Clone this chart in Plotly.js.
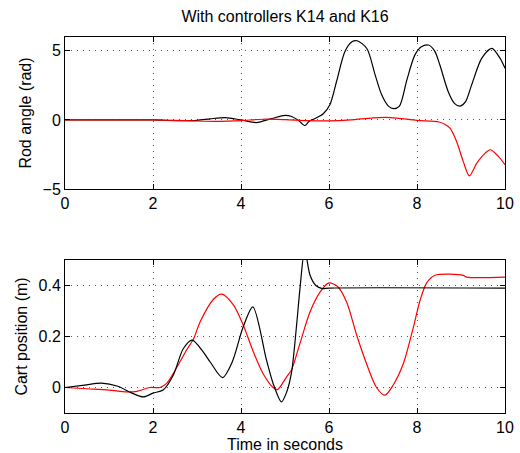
<!DOCTYPE html>
<html>
<head>
<meta charset="utf-8">
<script src="https://cdn.plot.ly/plotly-3.0.1.min.js"></script>
<style>
  html, body { margin: 0; padding: 0; background: #fff; }
  #chart { width: 520px; height: 453px; }
</style>
</head>
<body>
<div id="chart"></div>
<script>
// Rod angle (rad), controller K14 (black)
const angleK14T = [0, 1.0, 2.0, 2.5, 3.0, 3.3, 3.65, 4.0, 4.35, 4.7, 5.0, 5.15, 5.3, 5.45, 5.55, 5.65, 5.87, 6.02, 6.17, 6.36, 6.52, 6.64, 6.86, 7.05, 7.2, 7.35, 7.47, 7.6, 7.77, 7.95, 8.1, 8.26, 8.4, 8.52, 8.71, 8.85, 8.98, 9.1, 9.24, 9.47, 9.7, 9.89, 10];
const angleK14V = [0, 0, 0, -0.05, -0.03, 0.08, 0.17, 0, -0.19, 0.1, 0.33, 0.25, -0.02, -0.41, -0.1, 0.05, 0.45, 1.1, 2.76, 4.93, 5.65, 5.73, 5.17, 3.24, 1.8, 1.0, 0.82, 1.0, 2.9, 4.69, 5.3, 5.42, 5.0, 3.97, 2.04, 1.2, 1.0, 1.3, 2.52, 4.45, 5.18, 4.45, 3.73];

// Rod angle (rad), controller K16 (red)
const angleK16T = [0, 2.0, 2.5, 3.0, 3.5, 4.0, 4.5, 5.0, 5.5, 6.0, 6.5, 7.0, 7.4, 8.0, 8.5, 8.63, 8.75, 8.9, 9.05, 9.19, 9.36, 9.55, 9.67, 9.85, 10];
const angleK16V = [0, 0, -0.03, -0.08, -0.1, -0.05, 0.05, 0.02, -0.05, -0.07, 0.0, 0.15, 0.17, -0.03, -0.15, -0.31, -0.6, -1.56, -3.0, -4.05, -3.12, -2.4, -2.16, -2.64, -3.24];

// Cart position (m), controller K14 (black)
const cartK14T = [0, 0.4, 0.83, 1.2, 1.5, 1.78, 2.0, 2.23, 2.46, 2.69, 2.89, 3.14, 3.3, 3.58, 3.8, 4.05, 4.27, 4.58, 4.73, 4.92, 5.04, 5.15, 5.27, 5.34, 5.45, 5.5, 5.57, 5.7, 5.85, 6.0, 10];
const cartK14V = [0, 0.008, 0.017, 0.005, -0.02, -0.037, -0.022, -0.01, 0.048, 0.153, 0.186, 0.14, 0.10, 0.039, 0.1, 0.238, 0.316, 0.107, 0.016, -0.056, -0.017, 0.061, 0.257, 0.388, 0.55, 0.5, 0.44, 0.40, 0.388, 0.39, 0.39];

// Cart position (m), controller K16 (red)
const cartK16T = [0, 0.5, 1.0, 1.4, 1.63, 1.93, 2.16, 2.31, 2.61, 2.76, 2.92, 3.07, 3.37, 3.56, 3.83, 4.05, 4.28, 4.5, 4.73, 4.83, 5.03, 5.15, 5.34, 5.57, 5.8, 6.0, 6.2, 6.4, 6.63, 6.86, 7.08, 7.27, 7.46, 7.69, 7.92, 8.07, 8.22, 8.41, 9.05, 9.13, 10];
const cartK16V = [0, -0.005, -0.01, -0.017, -0.015, 0.0, 0.0, 0.016, 0.10, 0.146, 0.19, 0.257, 0.345, 0.366, 0.323, 0.245, 0.14, 0.055, 0.0, -0.008, 0.04, 0.07, 0.173, 0.297, 0.375, 0.41, 0.395, 0.335, 0.205, 0.09, 0.0, -0.03, 0.01, 0.094, 0.238, 0.342, 0.41, 0.44, 0.44, 0.433, 0.433];

const xTicks = [0, 2, 4, 6, 8, 10];
const angleTicks = [-5, 0, 5];
const cartTicks = [0, 0.2, 0.4];

const FONT = "'Liberation Sans', Arial, Helvetica, sans-serif";

function line(x, y, color, xa, ya) {
  return {
    x: x, y: y, xaxis: xa, yaxis: ya, type: 'scatter', mode: 'lines',
    line: { color: color, width: 1.2, shape: 'spline', smoothing: 0.8 },
    hoverinfo: 'skip', showlegend: false
  };
}

const data = [
  line(angleK14T, angleK14V, '#000000', 'x', 'y'),
  line(angleK16T, angleK16V, '#ff0000', 'x', 'y'),
  line(cartK16T, cartK16V, '#ff0000', 'x2', 'y2'),
  line(cartK14T, cartK14V, '#000000', 'x2', 'y2')
];

const axisCommon = {
  showline: true, linecolor: '#000', linewidth: 1, mirror: 'ticks',
  ticks: 'inside', ticklen: 5, tickcolor: '#000', tickwidth: 1,
  showgrid: true, gridcolor: '#555', griddash: '1px,5px', gridwidth: 1,
  zeroline: false, tickfont: { family: FONT, size: 16, color: '#000' },
  automargin: false
};

const layout = {
  width: 520, height: 453,
  margin: { l: 65, r: 15, t: 37, b: 40 },
  paper_bgcolor: '#fff', plot_bgcolor: '#fff',
  font: { family: FONT, size: 16, color: '#000' },
  title: {
    text: 'With controllers K14 and K16',
    font: { family: FONT, size: 16, color: '#000' },
    x: 0.5, xref: 'paper', xanchor: 'center',
    y: 1 - 16 / 453, yref: 'container', yanchor: 'middle'
  },
  xaxis: Object.assign({}, axisCommon, {
    domain: [0, 1], anchor: 'y', range: [0, 10], tickvals: xTicks
  }),
  yaxis: Object.assign({}, axisCommon, {
    domain: [0.5957, 1], anchor: 'x', range: [-5, 6], tickvals: angleTicks,
    title: { text: 'Rod angle (rad)', font: { family: FONT, size: 16 }, standoff: 6 }
  }),
  xaxis2: Object.assign({}, axisCommon, {
    domain: [0, 1], anchor: 'y2', range: [0, 10], tickvals: xTicks,
    title: { text: 'Time in seconds', font: { family: FONT, size: 16 }, standoff: 2 }
  }),
  yaxis2: Object.assign({}, axisCommon, {
    domain: [0, 0.4069], anchor: 'x2', range: [-0.1, 0.5], tickvals: cartTicks,
    title: { text: 'Cart position (m)', font: { family: FONT, size: 16 }, standoff: 6 }
  })
};

Plotly.newPlot('chart', data, layout, { staticPlot: true, displayModeBar: false });
</script>
</body>
</html>
